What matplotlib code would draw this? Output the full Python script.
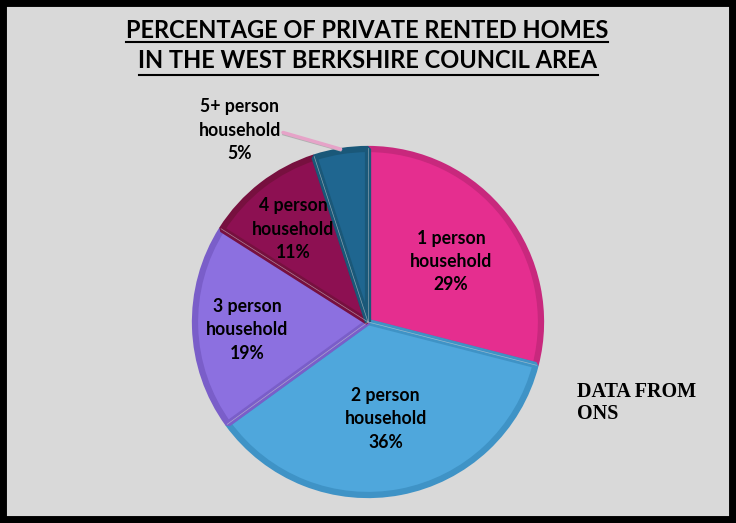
import numpy as np
import matplotlib
matplotlib.use('Agg')
import matplotlib.pyplot as plt
from matplotlib.patches import Rectangle

# Data
labels = ['1 person\nhousehold', '2 person\nhousehold', '3 person\nhousehold',
          '4 person\nhousehold', '5+ person\nhousehold']
shares = [29, 36, 19, 11, 5]
colors = ['#e52e8f', '#4fa7dc', '#8c70e0', '#8d1052', '#1f6690']
edges = ['#c8287d', '#3f93c6', '#7a5ec9', '#77103f', '#1a5879']
label_dist = [0.60, 0.54, 0.69, 0.70, None]

W, H = 736, 523
cx, cy, R = 368, H - 322, 175
FONT = ['Lato', 'DejaVu Sans']

fig = plt.figure(figsize=(W / 100, H / 100), dpi=100)
fig.patch.set_facecolor('#d9d9d9')
ax = fig.add_axes([0, 0, 1, 1])

wedges, _ = ax.pie(shares, colors=colors, startangle=90, counterclock=False,
                   center=(cx, cy), radius=R - 2, frame=True,
                   wedgeprops=dict(linewidth=4.5))
ax.set_xlim(0, W)
ax.set_ylim(0, H)
ax.set_aspect('equal')
ax.axis('off')
for w, ec in zip(wedges, edges):
    w.set_edgecolor(ec)
    w.set_joinstyle('bevel')

# faint light separators between slices
for w in wedges:
    t = np.deg2rad(w.theta1)
    ax.plot([cx, cx + (R - 1) * np.cos(t)], [cy, cy + (R - 1) * np.sin(t)],
            color='#d0d0d0', lw=0.5, alpha=0.6)

lab_font = dict(fontsize=12.7, fontweight='bold', ha='center', va='center',
                family=FONT, linespacing=1.45)
for w, lab, s, d in zip(wedges, labels, shares, label_dist):
    if d is None:
        continue
    t = np.deg2rad((w.theta1 + w.theta2) / 2)
    ax.text(cx + d * R * np.cos(t), cy + d * R * np.sin(t) - 4, f'{lab}\n{s}%',
            color='black', **lab_font)

# outside label for the small slice
w5 = wedges[4]
t5 = np.deg2rad((w5.theta1 + w5.theta2) / 2)
tip = (cx + R * np.cos(t5), cy + R * np.sin(t5))
ax.plot([283, tip[0]], [H - 134.5, tip[1] - 1.5], color='#b0b0b0', lw=1.2, zorder=2)
ax.plot([283, tip[0]], [H - 132.5, tip[1]], color='#e6a3c8', lw=2.5,
        solid_capstyle='round', zorder=3)
ax.text(240, H - 130, f'{labels[4]}\n{shares[4]}%', color='black', **lab_font)

# title with underlines sized to the text
title_font = dict(fontsize=17, fontweight='bold', ha='center', va='center',
                  family=FONT)
t1 = ax.text(367, H - 30, 'PERCENTAGE OF PRIVATE RENTED HOMES', **title_font)
t2 = ax.text(368, H - 61, 'IN THE WEST BERKSHIRE COUNCIL AREA', **title_font)
fig.canvas.draw()
rend = fig.canvas.get_renderer()
for t, uy in ((t1, H - 41.5), (t2, H - 74.5)):
    bb = t.get_window_extent(rend)
    ax.plot([bb.x0, bb.x1], [uy, uy], color='black', lw=1.5)

# source note
ax.text(577, H - 403, 'DATA FROM\nONS', fontsize=14.5, fontweight='bold',
        family='Liberation Serif', ha='left', va='center', linespacing=1.1)

# black frame
fig.patches.append(Rectangle((0, 0), 1, 1, transform=fig.transFigure,
                             fill=False, edgecolor='black', linewidth=10))

fig.savefig('out.png', dpi=100, facecolor=fig.get_facecolor())
